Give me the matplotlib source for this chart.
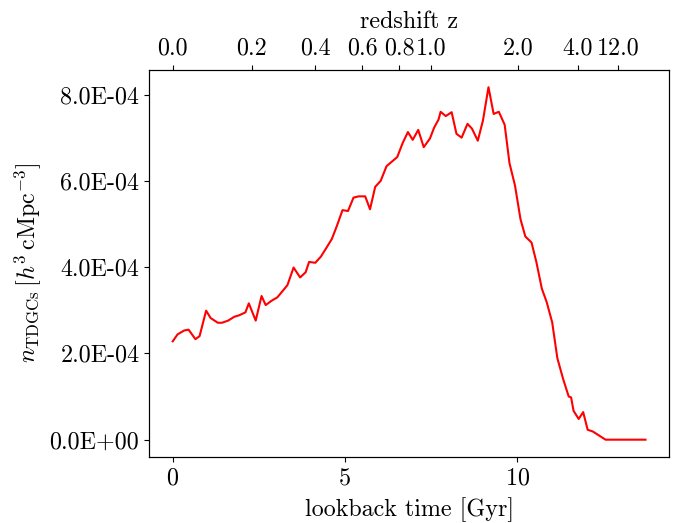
import matplotlib
matplotlib.use("Agg")
import matplotlib.pyplot as plt
from matplotlib.ticker import FormatStrFormatter

plt.rcParams['font.family'] = 'serif'
plt.rcParams['font.serif'] = ['cmr10', 'DejaVu Serif']
plt.rcParams['mathtext.fontset'] = 'cm'
plt.rcParams['axes.unicode_minus'] = False
plt.rcParams['axes.formatter.use_mathtext'] = True

# lookback time [Gyr]
lookback_time = [0.00, 0.14, 0.33, 0.46, 0.66, 0.78, 0.97, 1.10, 1.31, 1.43,
                 1.61, 1.79, 1.92, 2.11, 2.21, 2.41, 2.58, 2.70, 2.87, 3.04,
                 3.33, 3.51, 3.70, 3.86, 3.96, 4.14, 4.30, 4.45, 4.62, 4.77,
                 4.93, 5.09, 5.25, 5.40, 5.59, 5.73, 5.88, 6.04, 6.21, 6.52,
                 6.68, 6.83, 6.97, 7.13, 7.29, 7.47, 7.59, 7.72, 7.78, 7.93,
                 8.10, 8.24, 8.39, 8.56, 8.69, 8.86, 9.01, 9.17, 9.32, 9.47,
                 9.64, 9.78, 9.94, 10.10, 10.24, 10.42, 10.56, 10.72, 10.86, 11.02,
                 11.17, 11.34, 11.50, 11.57, 11.64, 11.79, 11.92, 12.05, 12.20, 12.57,
                 13.73]
# number density [1e-4 h^3 cMpc^-3]
n_tdgcs_e4 = [2.28, 2.44, 2.53, 2.55, 2.33, 2.40, 2.99, 2.82, 2.71, 2.71,
              2.76, 2.85, 2.88, 2.95, 3.16, 2.76, 3.33, 3.12, 3.22, 3.30,
              3.58, 3.99, 3.76, 3.88, 4.12, 4.10, 4.24, 4.43, 4.65, 4.96,
              5.32, 5.30, 5.61, 5.64, 5.64, 5.34, 5.86, 6.00, 6.34, 6.55,
              6.88, 7.13, 6.95, 7.18, 6.78, 6.98, 7.23, 7.42, 7.60, 7.50,
              7.59, 7.09, 7.00, 7.32, 7.21, 6.93, 7.40, 8.17, 7.55, 7.60,
              7.30, 6.41, 5.89, 5.11, 4.71, 4.57, 4.12, 3.50, 3.19, 2.72,
              1.89, 1.40, 1.00, 0.98, 0.67, 0.48, 0.64, 0.23, 0.19, 0.00,
              0.00]
n_tdgcs = [v * 1e-4 for v in n_tdgcs_e4]

# top axis: redshift ticks at lookback times
z_labels = ['0.0', '0.2', '0.4', '0.6', '0.8', '1.0', '2.0', '4.0', '12.0']
z_lookback = [0.0, 2.29, 4.14, 5.51, 6.58, 7.51, 10.04, 11.76, 12.93]

fs = 17.3
fig = plt.figure(figsize=(6.87, 5.23), dpi=100)
ax = fig.add_axes([0.217, 0.1256, 0.757, 0.7414])
ax.plot(lookback_time, n_tdgcs, color='red', lw=1.5)
ax.set_xticks([0, 5, 10])
ax.set_yticks([0, 2e-4, 4e-4, 6e-4, 8e-4])
ax.yaxis.set_major_formatter(FormatStrFormatter('%.1E'))
ax.tick_params(labelsize=fs)
ax.set_xlabel('lookback time [Gyr]', fontsize=fs, labelpad=6)
ax.set_ylabel(r'$n_{\rm TDGCs}\,[h^3\,{\rm cMpc}^{-3}]$', fontsize=fs, labelpad=4)

ax2 = ax.twiny()
ax2.set_xlim(ax.get_xlim())
ax2.set_xticks(z_lookback)
ax2.set_xticklabels(z_labels)
ax2.tick_params(labelsize=fs)
ax2.set_xlabel('redshift z', fontsize=fs, labelpad=7)

fig.savefig('out.png', dpi=100)
